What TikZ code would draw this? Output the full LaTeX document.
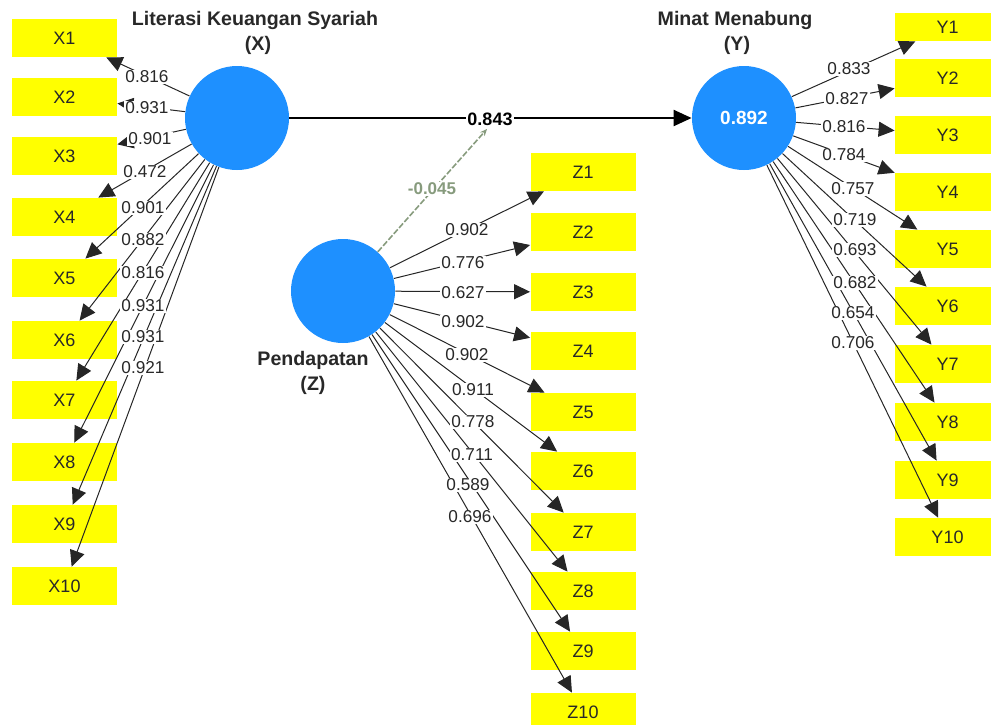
\documentclass[tikz,border=0pt]{standalone}
\usepackage{fontspec}
\setmainfont{Liberation Sans}
\usetikzlibrary{arrows.meta}
\definecolor{latblue}{RGB}{30,144,255}
\definecolor{indyellow}{RGB}{255,255,0}
\definecolor{modgreen}{RGB}{135,155,125}
\definecolor{txtgray}{RGB}{40,40,40}
\tikzset{
 lat/.style={circle, fill=latblue, minimum size=52pt, inner sep=0pt},
 ind/.style={rectangle, fill=indyellow, minimum width=52.5pt, minimum height=19pt, inner sep=0pt, font=\fontsize{9}{10}\selectfont, text=txtgray},
 load/.style={-{Triangle[length=8pt,width=7.5pt]}, line width=0.5pt, draw=black!85},
 lbl/.style={fill=white, inner sep=0.6pt, font=\fontsize{8.6}{10}\selectfont, text=txtgray},
 ttl/.style={font=\bfseries\fontsize{9.8}{11}\selectfont, text=txtgray},
 structline/.style={-{Triangle[length=9pt,width=8pt]}, line width=1.1pt, draw=black},
 modline/.style={draw=modgreen, dash pattern=on 3pt off 1pt, line width=0.8pt, -{Stealth[length=3.5pt,width=3pt]}},
}
\begin{document}
\begin{tikzpicture}[x=0.5pt,y=-0.5pt]
\useasboundingbox (0,0) rectangle (991,724);
\clip (0,0) rectangle (991,724);
% latent variables
\node[lat] (X) at (237,118) {};
\node[lat] (Z) at (343,291) {};
\node[lat, font=\bfseries\fontsize{9.5}{10}\selectfont, text=white] (Y) at (744,118) {0.892};
% titles
\node[ttl] (tx1) at (255,20) {Literasi Keuangan Syariah};
\node[ttl] (tx2) at (258,45) {(X)};
\node[ttl] (ty1) at (735,20) {Minat Menabung};
\node[ttl] (ty2) at (737,45) {(Y)};
\node[ttl] (tz1) at (313,360) {Pendapatan};
\node[ttl] (tz2) at (313,385) {(Z)};
% indicator boxes
\foreach \i/\yy in {1/38,2/97,3/156,4/217,5/278,6/340,7/400,8/462,9/524,10/586}
  {\node[ind] (x\i) at (64.5,\yy) {X\i};}
\foreach \i/\yy in {1/172,2/232,3/292,4/351,5/412,6/471,7/532,8/591,9/651,10/712}
  {\node[ind] (z\i) at (583,\yy) {Z\i};}
\node[ind, minimum height=14pt] (y1) at (947.5,27) {Y1};
\foreach \i/\yy in {2/78,3/135,4/192,5/249,6/306,7/364,8/422,9/480,10/537}
  {\node[ind] (y\i) at (947.5,\yy) {Y\i};}
% loadings
\foreach \i in {1,...,10}{
  \draw[load] (X) -- (x\i);
  \draw[load] (Z) -- (z\i);
  \draw[load] (Y) -- (y\i);
}
% structural paths
\draw[structline] (X) -- (Y);
\coordinate (m) at (487,129);
\draw[modline] (Z) -- (m);
% loading labels X
\foreach \k/\lx/\ly/\v in {1/147/77/0.816,2/147/108/0.931,3/150/139/0.901,4/145/172/0.472,5/143/208/0.901,6/143/240/0.882,7/143/273/0.816,8/143/306/0.931,9/143/337/0.931,10/143/368/0.921}
  {\node[lbl] (lx\k) at (\lx,\ly) {\v};}
% loading labels Z
\foreach \k/\lx/\ly/\v in {1/467/230/0.902,2/463/263/0.776,3/463/293/0.627,4/463/322/0.902,5/467/355/0.902,6/473/390/0.911,7/473/422/0.778,8/472/455/0.711,9/468/485/0.589,10/470/517/0.696}
  {\node[lbl] (lz\k) at (\lx,\ly) {\v};}
% loading labels Y
\foreach \k/\lx/\ly/\v in {1/849/69/0.833,2/847/99/0.827,3/844/127/0.816,4/844/155/0.784,5/853/189/0.757,6/855/220/0.719,7/855/250/0.693,8/855/283/0.682,9/853/313/0.654,10/853/343/0.706}
  {\node[lbl] (ly\k) at (\lx,\ly) {\v};}
% path labels
\node[lbl, font=\bfseries\fontsize{9}{10}\selectfont, text=black] (pxy) at (490,119) {0.843};
\node[lbl, font=\bfseries\fontsize{8.5}{10}\selectfont, text=modgreen] (pzm) at (432,189) {-0.045};
\end{tikzpicture}
\end{document}
